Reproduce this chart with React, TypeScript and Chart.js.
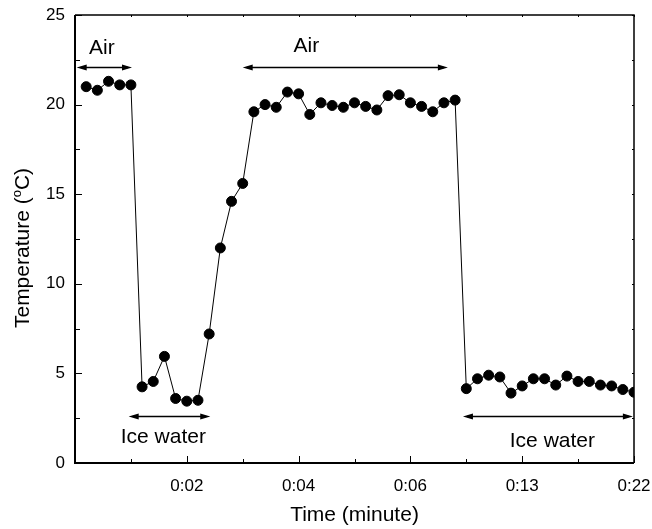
import React, { useEffect, useRef } from 'react';
import { Chart, registerables } from 'chart.js';

Chart.register(...registerables);

const FONT = "'Liberation Sans', Arial, Helvetica, sans-serif";

// sample number (one reading per sample step)
const sampleNumbers = [
  1, 2, 3, 4, 5, 6, 7, 8, 9, 10,
  11, 12, 13, 14, 15, 16, 17, 18, 19, 20,
  21, 22, 23, 24, 25, 26, 27, 28, 29, 30,
  31, 32, 33, 34, 35, 36, 37, 38, 39, 40,
  41, 42, 43, 44, 45, 46, 47, 48, 49, 50,
];

// temperature readings (°C)
const temperatures = [
  21.0, 20.8, 21.3, 21.1, 21.1,
  4.25, 4.55, 5.95, 3.6, 3.45, 3.5,
  7.2, 12.0, 14.6, 15.6,
  19.6, 20.0, 19.85, 20.7, 20.6, 19.45, 20.1, 19.95, 19.85, 20.1,
  19.9, 19.7, 20.5, 20.55, 20.1, 19.9, 19.6, 20.1, 20.25,
  4.15, 4.7, 4.9, 4.8, 3.9, 4.3, 4.7, 4.7, 4.35, 4.85,
  4.55, 4.55, 4.35, 4.3, 4.1, 3.95,
];

const xTickValues = [10, 20, 30, 40, 50];
const xTickLabels = ['0:02', '0:04', '0:06', '0:13', '0:22'];
const yTickValues = [0, 5, 10, 15, 20, 25];

const xAxisTitle = 'Time (minute)';
const yAxisTitleParts = ['Temperature (', 'o', 'C)'];

// annotations (in data coordinates)
const annotationLabels = ['Air', 'Air', 'Ice water', 'Ice water'];
const annotationFrom = [0.15, 15.0, 4.8, 34.7];
const annotationTo = [5.1, 33.35, 12.1, 49.9];
const annotationY = [22.1, 22.1, 2.65, 2.65];
const annotationTextX = [2.4, 20.7, 7.9, 42.7];
const annotationTextY = [23.15, 23.25, 1.45, 1.2];

function drawArrowHead(ctx: CanvasRenderingContext2D, x: number, y: number, dir: number) {
  const len = 10;
  const half = 3;
  ctx.beginPath();
  ctx.moveTo(x, y);
  ctx.lineTo(x - dir * len, y - half);
  ctx.lineTo(x - dir * len, y + half);
  ctx.closePath();
  ctx.fill();
}

const framePlugin = {
  id: 'framePlugin',
  afterDraw(chart: any) {
    const { ctx, chartArea: a, scales } = chart;
    const xs = scales.x;
    const ys = scales.y;
    ctx.save();
    ctx.strokeStyle = '#000';
    ctx.fillStyle = '#000';

    // ticks (inward)
    ctx.lineWidth = 1;
    xs.ticks.forEach((t: any) => {
      const px = Math.round(xs.getPixelForValue(t.value)) + 0.5;
      const major = xTickValues.includes(t.value) || t.value === 0;
      ctx.beginPath();
      ctx.moveTo(px, a.bottom);
      ctx.lineTo(px, a.bottom - (major ? 7 : 4));
      ctx.stroke();
      ctx.beginPath();
      ctx.moveTo(px, a.top);
      ctx.lineTo(px, a.top + 2);
      ctx.stroke();
    });
    ys.ticks.forEach((t: any) => {
      const py = Math.round(ys.getPixelForValue(t.value)) + 0.5;
      const major = yTickValues.includes(t.value);
      ctx.beginPath();
      ctx.moveTo(a.left, py);
      ctx.lineTo(a.left + (major ? 7 : 5), py);
      ctx.stroke();
      ctx.beginPath();
      ctx.moveTo(a.right, py);
      ctx.lineTo(a.right - 2, py);
      ctx.stroke();
    });

    // frame
    ctx.lineWidth = 1.5;
    ctx.beginPath();
    ctx.moveTo(a.left, a.top);
    ctx.lineTo(a.right, a.top);
    ctx.lineTo(a.right, a.bottom);
    ctx.stroke();
    ctx.lineWidth = 2;
    ctx.beginPath();
    ctx.moveTo(a.left, a.top);
    ctx.lineTo(a.left, a.bottom);
    ctx.lineTo(a.right, a.bottom);
    ctx.stroke();

    // annotations
    ctx.font = `21px ${FONT}`;
    ctx.textAlign = 'center';
    ctx.textBaseline = 'middle';
    annotationLabels.forEach((label, i) => {
      const x1 = xs.getPixelForValue(annotationFrom[i]);
      const x2 = xs.getPixelForValue(annotationTo[i]);
      const y = Math.round(ys.getPixelForValue(annotationY[i])) + 0.5;
      ctx.lineWidth = 1.3;
      ctx.beginPath();
      ctx.moveTo(x1 + 4, y);
      ctx.lineTo(x2 - 4, y);
      ctx.stroke();
      drawArrowHead(ctx, x1, y, -1);
      drawArrowHead(ctx, x2, y, 1);
      ctx.fillText(label, xs.getPixelForValue(annotationTextX[i]), ys.getPixelForValue(annotationTextY[i]));
    });

    // x axis title
    ctx.font = `21px ${FONT}`;
    ctx.fillText(xAxisTitle, (a.left + a.right) / 2, 515);

    // y axis title with superscript
    ctx.save();
    ctx.translate(22, 248);
    ctx.rotate(-Math.PI / 2);
    const big = `21px ${FONT}`;
    const small = `13px ${FONT}`;
    ctx.font = big;
    const w1 = ctx.measureText(yAxisTitleParts[0]).width;
    const w3 = ctx.measureText(yAxisTitleParts[2]).width;
    ctx.font = small;
    const w2 = ctx.measureText(yAxisTitleParts[1]).width;
    const total = w1 + w2 + w3;
    ctx.textAlign = 'left';
    ctx.textBaseline = 'alphabetic';
    let x = -total / 2;
    const base = 7;
    ctx.font = big;
    ctx.fillText(yAxisTitleParts[0], x, base);
    x += w1;
    ctx.font = small;
    ctx.fillText(yAxisTitleParts[1], x, base - 8);
    x += w2;
    ctx.font = big;
    ctx.fillText(yAxisTitleParts[2], x, base);
    ctx.restore();

    ctx.restore();
  },
};

export default function App() {
  const canvasRef = useRef<HTMLCanvasElement | null>(null);

  useEffect(() => {
    if (!canvasRef.current) return;
    const chart = new Chart(canvasRef.current, {
      type: 'line',
      data: {
        datasets: [
          {
            data: sampleNumbers.map((s, i) => ({ x: s, y: temperatures[i] })),
            borderColor: '#000',
            borderWidth: 1,
            backgroundColor: '#000',
            pointBackgroundColor: '#000',
            pointBorderColor: '#000',
            pointRadius: 5,
            pointBorderWidth: 1,
            pointHoverRadius: 5,
            tension: 0,
            fill: false,
            clip: 0,
          },
        ],
      },
      options: {
        animation: false,
        responsive: false,
        events: [],
        layout: { padding: { top: 15, right: 18, left: 0, bottom: 0 } },
        plugins: {
          legend: { display: false },
          tooltip: { enabled: false },
          title: { display: false },
        },
        scales: {
          x: {
            type: 'linear',
            min: 0,
            max: 50,
            ticks: {
              stepSize: 5,
              autoSkip: false,
              maxRotation: 0,
              padding: 13,
              color: '#000',
              font: { size: 17, family: FONT },
              callback: (v: any) => {
                const idx = xTickValues.indexOf(Number(v));
                return idx >= 0 ? xTickLabels[idx] : '';
              },
            },
            grid: { display: false, drawTicks: false },
            border: { display: false },
            afterFit: (s: any) => {
              s.height = 66;
              s.paddingLeft = 0;
              s.paddingRight = 0;
            },
          },
          y: {
            type: 'linear',
            min: 0,
            max: 25,
            ticks: {
              stepSize: 2.5,
              autoSkip: false,
              padding: 10,
              color: '#000',
              font: { size: 17, family: FONT },
              callback: (v: any) => (yTickValues.includes(Number(v)) ? String(v) : ''),
            },
            grid: { display: false, drawTicks: false },
            border: { display: false },
            afterFit: (s: any) => {
              s.width = 75;
              s.paddingTop = 0;
              s.paddingBottom = 0;
            },
          },
        },
      },
      plugins: [framePlugin],
    });
    return () => chart.destroy();
  }, []);

  return (
    <div style={{ position: 'absolute', left: 0, top: 0, width: 652, height: 529, background: '#fff' }}>
      <canvas ref={canvasRef} width={652} height={529} style={{ display: 'block' }} />
    </div>
  );
}
